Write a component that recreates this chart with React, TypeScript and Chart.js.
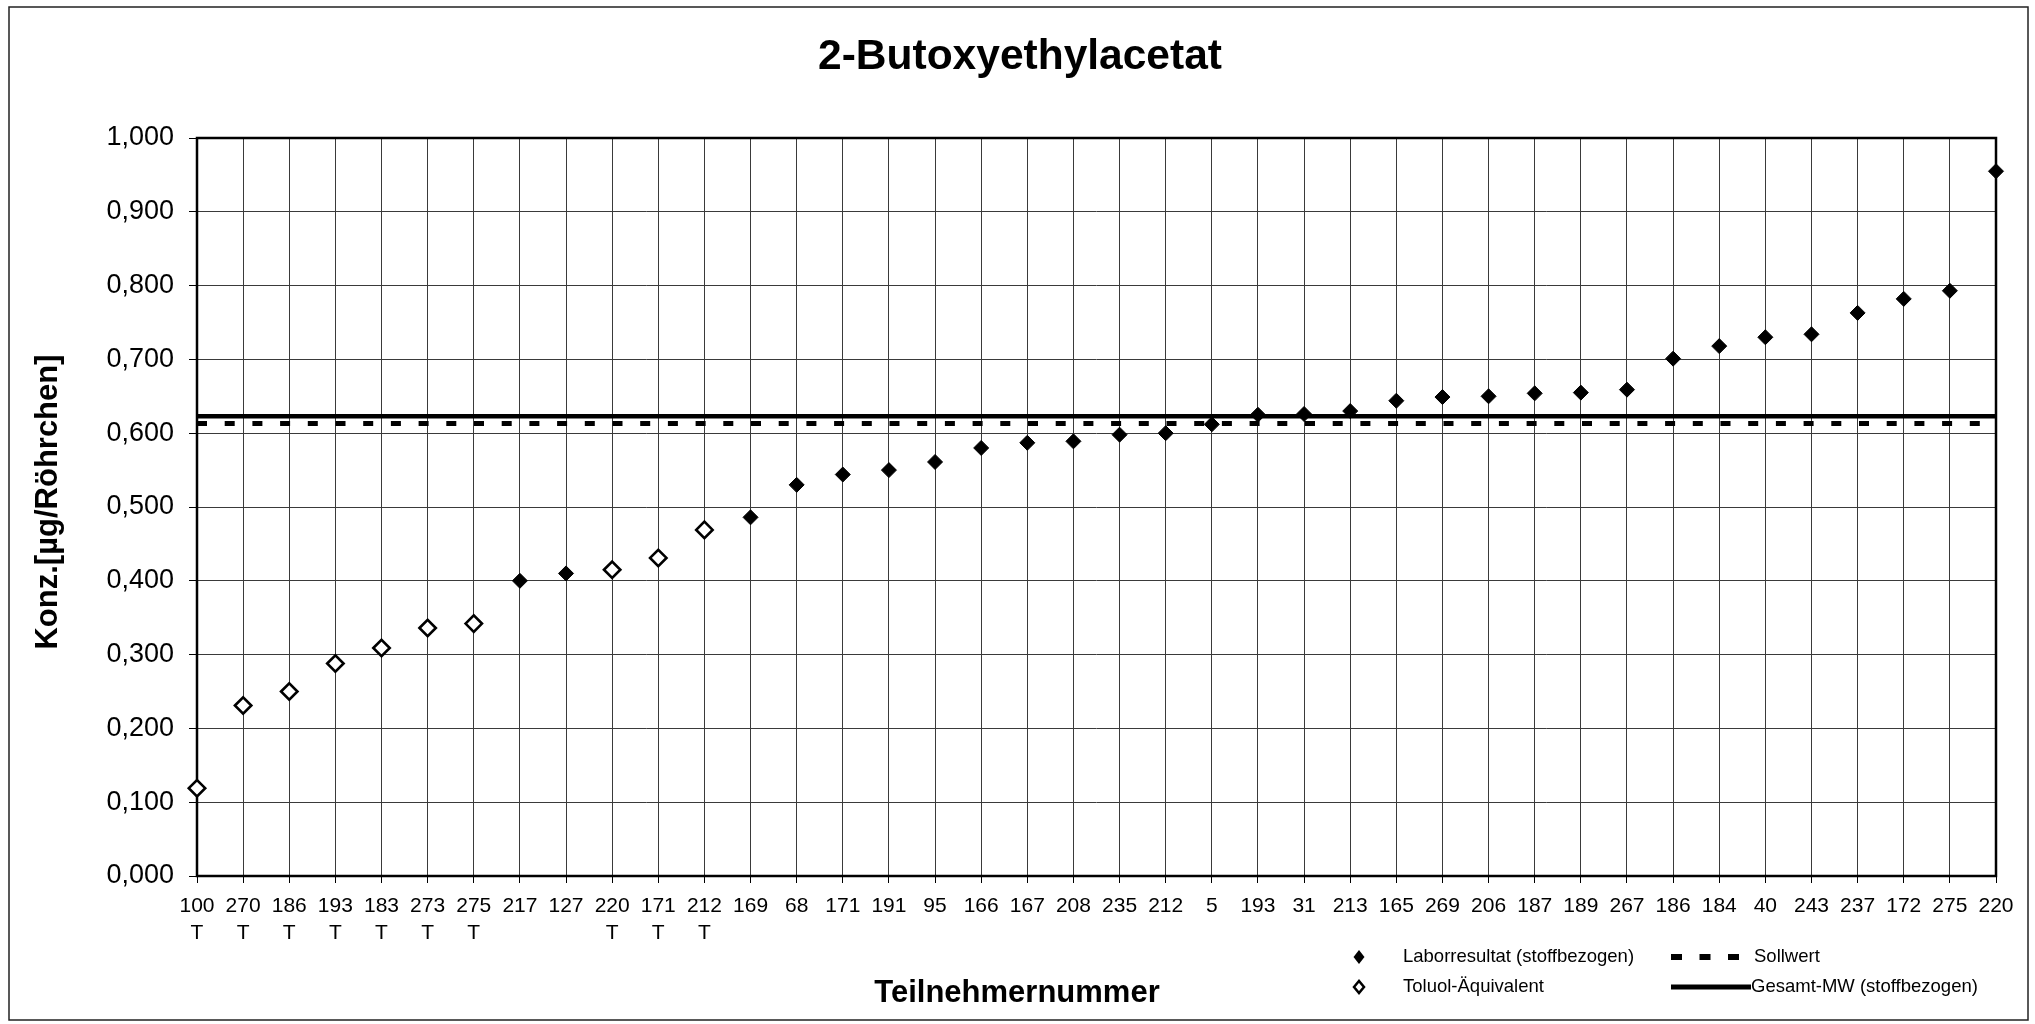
import React, { useEffect, useRef } from 'react';
import { Chart, registerables } from 'chart.js';

Chart.register(...registerables);

const TITLE = '2-Butoxyethylacetat';
const X_TITLE = 'Teilnehmernummer';
const Y_TITLE = 'Konz.[µg/Röhrchen]';

const participants = [
  '100', '270', '186', '193', '183', '273', '275', '217', '127', '220',
  '171', '212', '169', '68', '171', '191', '95', '166', '167', '208',
  '235', '212', '5', '193', '31', '213', '165', '269', '206', '187',
  '189', '267', '186', '184', '40', '243', '237', '172', '275', '220',
];

const toluolMarks = [
  'T', 'T', 'T', 'T', 'T', 'T', 'T', '', '', 'T',
  'T', 'T', '', '', '', '', '', '', '', '',
  '', '', '', '', '', '', '', '', '', '',
  '', '', '', '', '', '', '', '', '', '',
];

const laborresultat: (number | null)[] = [
  null, null, null, null, null, null, null, 0.400, 0.410, null,
  null, null, 0.486, 0.530, 0.544, 0.550, 0.561, 0.580, 0.587, 0.589,
  0.598, 0.600, 0.612, 0.625, 0.626, 0.630, 0.644, 0.649, 0.650, 0.654,
  0.655, 0.659, 0.701, 0.718, 0.730, 0.734, 0.763, 0.782, 0.793, 0.955,
];

const toluolAequivalent: (number | null)[] = [
  0.119, 0.231, 0.250, 0.288, 0.309, 0.336, 0.342, null, null, 0.415,
  0.431, 0.469, null, null, null, null, null, null, null, null,
  null, null, null, null, null, null, null, null, null, null,
  null, null, null, null, null, null, null, null, null, null,
];

const SOLLWERT = 0.613;
const GESAMT_MW = 0.623;

const Y_MIN = 0;
const Y_MAX = 1;
const Y_STEP = 0.1;

const LEGEND_LABELS = [
  'Laborresultat (stoffbezogen)',
  'Toluol-Äquivalent',
  'Sollwert',
  'Gesamt-MW (stoffbezogen)',
];

const FONT = "'Liberation Sans', Arial, Helvetica, sans-serif";

function diamond(ctx: CanvasRenderingContext2D, x: number, y: number, hw: number, hh: number) {
  ctx.beginPath();
  ctx.moveTo(x - hw, y);
  ctx.lineTo(x, y - hh);
  ctx.lineTo(x + hw, y);
  ctx.lineTo(x, y + hh);
  ctx.closePath();
}

const decorPlugin = {
  id: 'decor',
  beforeDatasetsDraw(chart: any) {
    const { ctx, chartArea: a, scales } = chart;
    const y = scales.y;
    ctx.save();
    ctx.strokeStyle = '#000';
    ctx.lineCap = 'butt';
    // Sollwert (dashed)
    const ys = y.getPixelForValue(SOLLWERT);
    ctx.lineWidth = 5;
    ctx.setLineDash([10, 17.7]);
    ctx.beginPath();
    ctx.moveTo(a.left, ys);
    ctx.lineTo(a.right, ys);
    ctx.stroke();
    ctx.setLineDash([]);
    // Gesamt-MW (solid)
    const ym = y.getPixelForValue(GESAMT_MW);
    ctx.lineWidth = 4.5;
    ctx.beginPath();
    ctx.moveTo(a.left, ym);
    ctx.lineTo(a.right, ym);
    ctx.stroke();
    // plot border
    ctx.lineWidth = 2.5;
    ctx.strokeRect(a.left, a.top, a.right - a.left, a.bottom - a.top);
    ctx.restore();
  },
  afterDraw(chart: any) {
    const { ctx } = chart;
    ctx.save();
    // outer frame
    ctx.strokeStyle = '#222';
    ctx.lineWidth = 1.5;
    ctx.strokeRect(9, 7, 2019, 1013);

    ctx.fillStyle = '#000';
    // chart title
    ctx.font = `bold 42.5px ${FONT}`;
    ctx.textAlign = 'center';
    ctx.textBaseline = 'alphabetic';
    ctx.fillText(TITLE, 1020, 69);

    // x axis title
    ctx.font = `bold 31px ${FONT}`;
    ctx.fillText(X_TITLE, 1017, 1002);

    // y axis title
    ctx.save();
    ctx.translate(57, 502);
    ctx.rotate(-Math.PI / 2);
    ctx.fillText(Y_TITLE, 0, 0);
    ctx.restore();

    // legend
    ctx.font = `18.5px ${FONT}`;
    ctx.textAlign = 'left';
    ctx.textBaseline = 'middle';
    const r1 = 957;
    const r2 = 987;
    // filled diamond
    ctx.fillStyle = '#000';
    diamond(ctx, 1359, r1, 5.5, 7);
    ctx.fill();
    ctx.fillText(LEGEND_LABELS[0], 1403, r1);
    // open diamond
    ctx.fillStyle = '#fff';
    ctx.strokeStyle = '#000';
    ctx.lineWidth = 2.5;
    diamond(ctx, 1359, r2, 5, 6);
    ctx.fill();
    ctx.stroke();
    ctx.fillStyle = '#000';
    ctx.fillText(LEGEND_LABELS[1], 1403, r2);
    // dashed sample
    ctx.lineWidth = 6;
    ctx.setLineDash([11, 17.5]);
    ctx.beginPath();
    ctx.moveTo(1671, r1);
    ctx.lineTo(1743, r1);
    ctx.stroke();
    ctx.setLineDash([]);
    ctx.fillText(LEGEND_LABELS[2], 1754, r1);
    // solid sample
    ctx.lineWidth = 5;
    ctx.beginPath();
    ctx.moveTo(1671, r2);
    ctx.lineTo(1751, r2);
    ctx.stroke();
    ctx.fillText(LEGEND_LABELS[3], 1751, r2);
    ctx.restore();
  },
};

export default function App() {
  const canvasRef = useRef<HTMLCanvasElement | null>(null);

  useEffect(() => {
    const canvas = canvasRef.current;
    if (!canvas) return;
    const labels = participants.map((p, i) => (toluolMarks[i] ? [p, toluolMarks[i]] : p));
    const chart = new Chart(canvas, {
      type: 'line',
      data: {
        labels,
        datasets: [
          {
            label: LEGEND_LABELS[0],
            data: laborresultat,
            showLine: false,
            pointStyle: 'rectRot',
            pointRadius: 7.5,
            pointHoverRadius: 7.5,
            backgroundColor: '#000',
            borderColor: '#000',
            borderWidth: 1,
            clip: false,
          },
          {
            label: LEGEND_LABELS[1],
            data: toluolAequivalent,
            showLine: false,
            pointStyle: 'rectRot',
            pointRadius: 8.2,
            pointHoverRadius: 8.2,
            backgroundColor: '#fff',
            borderColor: '#000',
            borderWidth: 2.6,
            clip: false,
          },
        ],
      } as any,
      options: {
        responsive: false,
        maintainAspectRatio: false,
        animation: false,
        events: [],
        layout: { padding: { left: 0, right: 39, top: 138, bottom: 0 } },
        plugins: {
          legend: { display: false },
          tooltip: { enabled: false },
          title: { display: false },
        },
        scales: {
          x: {
            type: 'category',
            offset: false,
            grid: { color: '#3a3a3a', lineWidth: 1, tickLength: 7, tickColor: '#000', offset: false },
            border: { display: false },
            ticks: {
              autoSkip: false,
              maxRotation: 0,
              minRotation: 0,
              padding: 10,
              color: '#000',
              font: { family: FONT, size: 21, lineHeight: 1.286 },
            },
            afterFit: (s: any) => {
              s.height = 148;
            },
          },
          y: {
            min: Y_MIN,
            max: Y_MAX,
            grid: { color: '#3a3a3a', lineWidth: 1, tickLength: 8, tickColor: '#000' },
            border: { display: false },
            ticks: {
              stepSize: Y_STEP,
              padding: 15,
              color: '#000',
              font: { family: FONT, size: 27 },
              callback: (v: any) => Number(v).toFixed(3).replace('.', ','),
            },
            afterFit: (s: any) => {
              s.width = 197;
            },
          },
        },
      } as any,
      plugins: [decorPlugin],
    });
    return () => chart.destroy();
  }, []);

  return (
    <div style={{ position: 'absolute', left: 0, top: 0, width: 2035, height: 1024, background: '#fff' }}>
      <canvas ref={canvasRef} width={2035} height={1024} style={{ width: 2035, height: 1024, display: 'block' }} />
    </div>
  );
}
